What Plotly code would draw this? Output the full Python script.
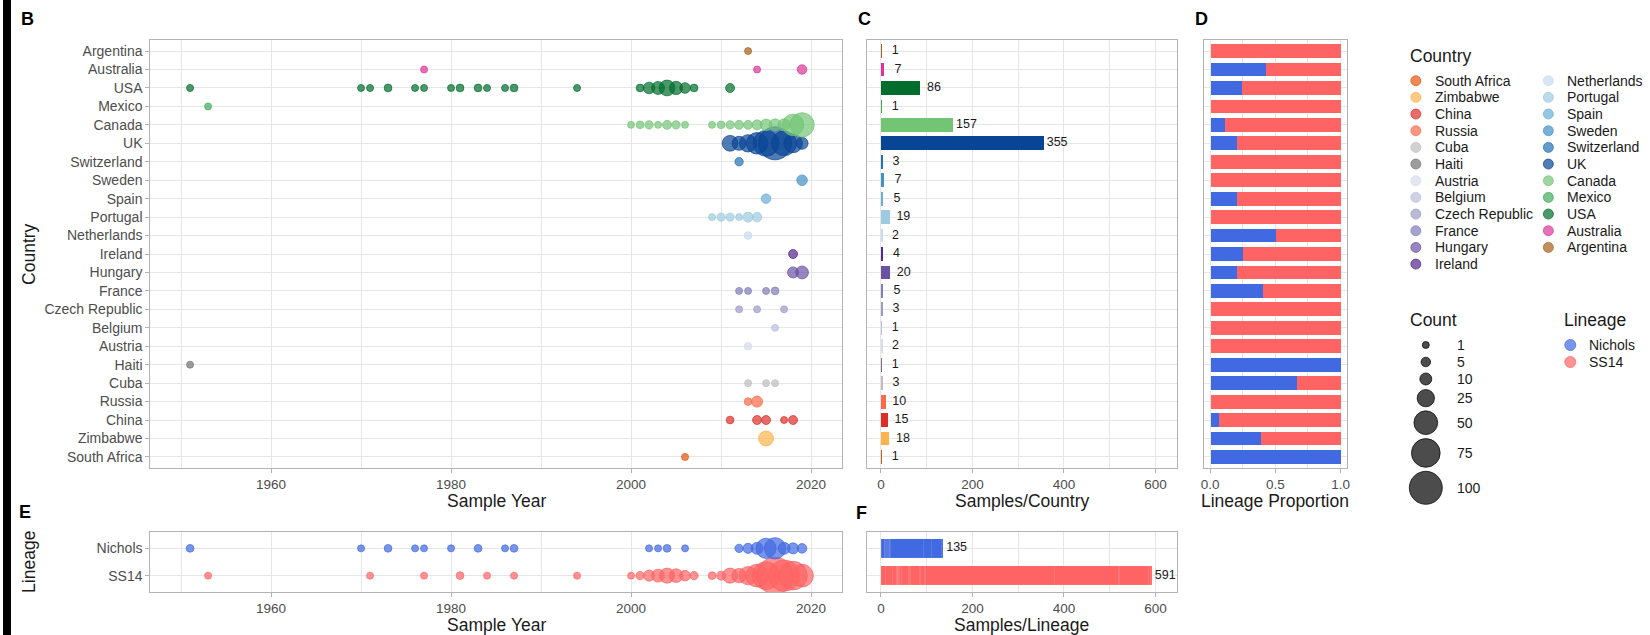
import math
import plotly.graph_objects as go

W, H = 1650, 635
FONT = "Liberation Sans, Arial, Helvetica, sans-serif"
TICK_GREY = "#4d4d4d"
BORDER = "#b3b3b3"
GRID = "#e6e6e6"

# ---- data -------------------------------------------------------------
countries = ["South Africa", "Zimbabwe", "China", "Russia", "Cuba", "Haiti",
             "Austria", "Belgium", "Czech Republic", "France", "Hungary",
             "Ireland", "Netherlands", "Portugal", "Spain", "Sweden",
             "Switzerland", "UK", "Canada", "Mexico", "USA", "Australia",
             "Argentina"]
country_colors = ["#e6550d", "#feb24c", "#de2d26", "#fb6a4a", "#bdbdbd",
                  "#737373", "#dadaeb", "#bcbddc", "#9e9ac8", "#807dba",
                  "#6a51a3", "#54278f", "#c6dbef", "#9ecae1", "#6baed6",
                  "#4292c6", "#2171b5", "#084594", "#74c476", "#41ab5d",
                  "#006d2c", "#dd3497", "#a6611a"]
country_totals = [1, 18, 15, 10, 3, 1, 2, 1, 3, 5, 20, 4, 2, 19, 5, 7, 3,
                  355, 157, 1, 86, 7, 1]
nichols_counts = [1, 7, 1, 0, 2, 1, 0, 0, 0, 2, 4, 1, 1, 0, 1, 0, 0,
                  72, 18, 0, 21, 3, 0]

# samples per country and year (long format)
sample_country = (["South Africa"] + ["Zimbabwe"] + ["China"] * 5 + ["Russia"] * 2
                  + ["Cuba"] * 3 + ["Haiti"] + ["Austria"] + ["Belgium"]
                  + ["Czech Republic"] * 3 + ["France"] * 4 + ["Hungary"] * 2
                  + ["Ireland"] + ["Netherlands"] + ["Portugal"] * 6 + ["Spain"]
                  + ["Sweden"] + ["Switzerland"] + ["UK"] * 9 + ["Canada"] * 18
                  + ["Mexico"] + ["USA"] * 21 + ["Australia"] * 3 + ["Argentina"])
sample_year = [
    2006,
    2015,
    2011, 2014, 2015, 2017, 2018,
    2013, 2014,
    2013, 2015, 2016,
    1951,
    2013,
    2016,
    2012, 2014, 2017,
    2012, 2013, 2015, 2016,
    2018, 2019,
    2018,
    2013,
    2009, 2010, 2011, 2012, 2013, 2014,
    2015,
    2019,
    2012,
    2011, 2012, 2013, 2014, 2015, 2016, 2017, 2018, 2019,
    2000, 2001, 2002, 2003, 2004, 2005, 2006, 2009, 2010, 2011, 2012, 2013,
    2014, 2015, 2016, 2017, 2018, 2019,
    1953,
    1951, 1970, 1971, 1973, 1976, 1977, 1980, 1981, 1983, 1984, 1986, 1987,
    1994, 2001, 2002, 2003, 2004, 2005, 2006, 2007, 2011,
    1977, 2014, 2019,
    2013,
]
sample_count = [
    1,
    18,
    2, 4, 4, 1, 4,
    2, 8,
    1, 1, 1,
    1,
    2,
    1,
    1, 1, 1,
    1, 1, 1, 2,
    8, 12,
    4,
    2,
    1, 3, 3, 1, 6, 5,
    5,
    7,
    3,
    20, 15, 25, 40, 60, 100, 55, 30, 10,
    1, 2, 3, 1, 4, 3, 1, 1, 2, 3, 4, 4, 6, 9, 10, 10, 40, 53,
    1,
    1, 1, 1, 2, 1, 1, 1, 2, 2, 1, 1, 2, 1, 2, 9, 12, 20, 13, 7, 2, 4,
    1, 1, 5,
    1,
]

lineages = ["SS14", "Nichols"]
lineage_colors = {"Nichols": "#4169e1", "SS14": "#ff6464"}
nichols_years = [1951, 1970, 1973, 1976, 1977, 1980, 1983, 1986, 1987, 2002,
                 2003, 2004, 2006, 2012, 2013, 2014, 2015, 2016, 2017, 2018, 2019]
nichols_year_counts = [2, 1, 2, 1, 1, 1, 2, 1, 2, 1, 1, 2, 1, 3, 6, 10, 35, 40,
                       10, 8, 5]
ss14_years = [1953, 1971, 1977, 1981, 1984, 1987, 1994, 2000, 2001, 2002, 2003,
              2004, 2005, 2006, 2007, 2009, 2010, 2011, 2012, 2013, 2014, 2015,
              2016, 2017, 2018, 2019]
ss14_year_counts = [1, 1, 1, 2, 1, 1, 1, 1, 3, 8, 12, 18, 14, 7, 3, 2, 4, 18,
                    16, 28, 45, 70, 125, 90, 74, 45]

count_breaks = [1, 5, 10, 25, 50, 75, 100]


# ---- helpers ----------------------------------------------------------
def rgba(hex_color, a):
    h = hex_color.lstrip("#")
    r, g, b = int(h[0:2], 16), int(h[2:4], 16), int(h[4:6], 16)
    return f"rgba({r},{g},{b},{a})"


def bubble(n):
    """Marker diameter in px; area grows linearly with the count."""
    return math.sqrt(38.5 + 10.5 * n)


def fx(px):
    return px / W


def fy(py):
    return 1 - py / H


# panel boxes in pixels: left, top, right, bottom
BOX_B = (148, 40, 842, 468)
BOX_C = (867, 40, 1178, 468)
BOX_D = (1205, 40, 1349, 468)
BOX_E = (148, 532, 842, 592)
BOX_F = (867, 532, 1178, 592)


def dom(box):
    l, t, r, b = box
    return [fx(l), fx(r)], [fy(b), fy(t)]


ALPHA = 0.7
fig = go.Figure()


def point_marker(sizes, color):
    # fill and rim share the same translucent colour, as in ggplot points
    return dict(size=sizes, color=rgba(color, ALPHA), opacity=1,
                line=dict(color=rgba(color, ALPHA), width=1))


# ---- B: samples per country over time ---------------------------------
for name, color in zip(countries, country_colors):
    yrs = [y for c, y in zip(sample_country, sample_year) if c == name]
    cnt = [n for c, n in zip(sample_country, sample_count) if c == name]
    fig.add_trace(go.Scatter(
        x=yrs, y=[name] * len(yrs), mode="markers", xaxis="x", yaxis="y",
        marker=point_marker([bubble(n) for n in cnt], color),
        showlegend=False, hoverinfo="skip"))

# ---- C: samples per country ---------------------------------------------
fig.add_trace(go.Bar(
    x=country_totals, y=countries, orientation="h", xaxis="x2", yaxis="y2",
    width=0.75, marker=dict(color=country_colors, line=dict(width=0)),
    showlegend=False, hoverinfo="skip"))
fig.add_trace(go.Scatter(
    x=[t + 30 for t in country_totals], y=countries, mode="text",
    text=[str(t) for t in country_totals], textposition="middle center",
    textfont=dict(family=FONT, size=12.5, color="#1a1a1a"),
    xaxis="x2", yaxis="y2", showlegend=False, hoverinfo="skip"))

# ---- D: lineage proportion per country ---------------------------------
prop_nichols = [n / t for n, t in zip(nichols_counts, country_totals)]
prop_ss14 = [1 - p for p in prop_nichols]
for vals, lin in ((prop_nichols, "Nichols"), (prop_ss14, "SS14")):
    fig.add_trace(go.Bar(
        x=vals, y=countries, orientation="h", xaxis="x3", yaxis="y3",
        width=0.75, marker=dict(color=lineage_colors[lin], line=dict(width=0)),
        showlegend=False, hoverinfo="skip"))

# ---- E: lineage samples over time ---------------------------------------
for lin, yrs, cnt in (("SS14", ss14_years, ss14_year_counts),
                      ("Nichols", nichols_years, nichols_year_counts)):
    fig.add_trace(go.Scatter(
        x=yrs, y=[lin] * len(yrs), mode="markers", xaxis="x4", yaxis="y4",
        marker=point_marker([bubble(n) for n in cnt], lineage_colors[lin]),
        showlegend=False, hoverinfo="skip"))

# ---- F: samples per lineage, stacked by country ---------------------------
ss14_counts = [t - n for t, n in zip(country_totals, nichols_counts)]
for n, s in zip(nichols_counts, ss14_counts):
    xs, ys, cs = [], [], []
    if n > 0:
        xs.append(n); ys.append("Nichols"); cs.append(lineage_colors["Nichols"])
    if s > 0:
        xs.append(s); ys.append("SS14"); cs.append(lineage_colors["SS14"])
    fig.add_trace(go.Bar(
        x=xs, y=ys, orientation="h", xaxis="x5", yaxis="y5", width=0.7,
        marker=dict(color=cs, line=dict(color="rgba(255,255,255,0.12)", width=0.5)),
        showlegend=False, hoverinfo="skip"))
lineage_totals = [sum(ss14_counts), sum(nichols_counts)]
fig.add_trace(go.Scatter(
    x=lineage_totals, y=lineages, mode="text",
    text=[f" {v}" for v in lineage_totals], textposition="middle right",
    textfont=dict(family=FONT, size=12.5, color="#1a1a1a"),
    xaxis="x5", yaxis="y5", showlegend=False, hoverinfo="skip", cliponaxis=False))

# ---- legends (drawn on a pixel-space overlay) ------------------------------
annotations = []


def text(x, y, s, size=14, anchor="left", bold=False, angle=0, color="#1a1a1a"):
    annotations.append(dict(
        x=fx(x), y=fy(y), xref="paper", yref="paper", text=f"<b>{s}</b>" if bold else s,
        showarrow=False, xanchor=anchor, yanchor="middle", textangle=angle,
        font=dict(family=FONT, size=size, color=color)))


KEY_D = 10
text(1410, 56, "Country", size=17.5)
key_x, key_y, key_c = [], [], []
for i, (name, color) in enumerate(zip(countries, country_colors)):
    col, row = divmod(i, 12)
    kx = 1418 + col * 133
    ky = 80.7 + row * 16.67
    key_x.append(kx); key_y.append(ky); key_c.append(color)
    text(kx + 17, ky, name)
fig.add_trace(go.Scatter(
    x=key_x, y=key_y, mode="markers", xaxis="x6", yaxis="y6",
    marker=dict(size=KEY_D, opacity=1, color=[rgba(c, ALPHA) for c in key_c],
                line=dict(color=[rgba(c, ALPHA) for c in key_c], width=1)),
    showlegend=False, hoverinfo="skip"))

text(1410, 320, "Count", size=17.5)
heights = [max(17, bubble(b) + 4) for b in count_breaks]
cy, cys = 345.0, []
for i, b in enumerate(count_breaks):
    if i > 0:
        cy += (heights[i - 1] + heights[i]) / 2
    cys.append(cy)
    text(1457, cy, str(b))
fig.add_trace(go.Scatter(
    x=[1428] * len(count_breaks), y=cys, mode="markers", xaxis="x6", yaxis="y6",
    marker=dict(size=[bubble(b) for b in count_breaks], opacity=1,
                color="rgba(0,0,0,0.7)", line=dict(color="rgba(0,0,0,0.7)", width=1)),
    showlegend=False, hoverinfo="skip"))

text(1565, 320, "Lineage", size=17.5)
for i, lin in enumerate(["Nichols", "SS14"]):
    text(1590, 345 + i * 17, lin)
fig.add_trace(go.Scatter(
    x=[1573, 1573], y=[345, 362], mode="markers", xaxis="x6", yaxis="y6",
    marker=dict(size=11, opacity=1,
                color=[rgba(lineage_colors[l], ALPHA) for l in ["Nichols", "SS14"]],
                line=dict(color=[rgba(lineage_colors[l], ALPHA) for l in ["Nichols", "SS14"]],
                          width=1)),
    showlegend=False, hoverinfo="skip"))

# ---- titles and panel letters ----------------------------------------------
text(495, 501, "Sample Year", size=17.5, anchor="center")
text(1022.5, 501, "Samples/Country", size=17.5, anchor="center")
text(1277, 501, "Lineage Proportion", size=17.5, anchor="center")
text(26, 254, "Country", size=17.5, anchor="center", angle=-90)
text(495, 625, "Sample Year", size=17.5, anchor="center")
text(1022.5, 625, "Samples/Lineage", size=17.5, anchor="center")
text(26, 562, "Lineage", size=17.5, anchor="center", angle=-90)
for letter, (lx, ly) in zip("BCDEF", [(25, 19), (865, 19), (1203, 19), (22, 512), (862, 513)]):
    text(lx, ly, letter, size=18, anchor="center", bold=True, color="#000000")


# ---- axes --------------------------------------------------------------------
def axis(domain, anchor, **kw):
    d = dict(domain=domain, anchor=anchor, showline=True, mirror=True,
             linecolor=BORDER, linewidth=1.3, ticks="outside", ticklen=4,
             tickcolor=BORDER, tickwidth=1,
             tickfont=dict(family=FONT, size=13.5, color=TICK_GREY),
             showgrid=True, gridcolor=GRID, gridwidth=1, zeroline=False,
             fixedrange=True)
    d.update(kw)
    return d


year_axis = dict(range=[1946.6, 2023.43], tick0=1960, dtick=20,
                 minor=dict(tick0=1950, dtick=10, showgrid=True, gridcolor=GRID))
count_axis = dict(range=[-30.8, 646.3], tick0=0, dtick=200,
                  minor=dict(tick0=0, dtick=100, showgrid=True, gridcolor=GRID))
country_axis = dict(type="category", categoryorder="array", categoryarray=countries,
                    range=[-0.6, len(countries) - 0.4])
lineage_axis = dict(type="category", categoryorder="array", categoryarray=lineages,
                    range=[-0.6, 1.6])

xb, yb = dom(BOX_B)
xc, yc = dom(BOX_C)
xd, yd = dom(BOX_D)
xe, ye = dom(BOX_E)
xf, yf = dom(BOX_F)

fig.update_layout(
    width=W, height=H, autosize=False,
    margin=dict(l=0, r=0, t=0, b=0, pad=0),
    paper_bgcolor="white", plot_bgcolor="rgba(0,0,0,0)",
    barmode="stack", bargap=0, showlegend=False,
    font=dict(family=FONT),
    xaxis=axis(xb, "y", **year_axis),
    yaxis=axis(yb, "x", **country_axis, tickfont=dict(family=FONT, size=14, color=TICK_GREY)),
    xaxis2=axis(xc, "y2", **count_axis),
    yaxis2=axis(yc, "x2", **country_axis, showticklabels=False, ticks=""),
    xaxis3=axis(xd, "y3", range=[-0.05, 1.05], tickvals=[0, 0.5, 1],
                ticktext=["0.0", "0.5", "1.0"],
                minor=dict(tickvals=[0.25, 0.75], showgrid=True, gridcolor=GRID)),
    yaxis3=axis(yd, "x3", **country_axis, showticklabels=False, ticks=""),
    xaxis4=axis(xe, "y4", **year_axis),
    yaxis4=axis(ye, "x4", **lineage_axis, tickfont=dict(family=FONT, size=14, color=TICK_GREY)),
    xaxis5=axis(xf, "y5", **count_axis),
    yaxis5=axis(yf, "x5", **lineage_axis, showticklabels=False, ticks=""),
    xaxis6=dict(domain=[0, 1], anchor="y6", range=[0, W], visible=False, fixedrange=True),
    yaxis6=dict(domain=[0, 1], anchor="x6", range=[H, 0], visible=False, fixedrange=True),
    annotations=annotations,
    shapes=[dict(type="rect", xref="paper", yref="paper", x0=0, x1=fx(8), y0=0, y1=1,
                 fillcolor="black", line=dict(width=0), layer="above")],
)

fig.write_html("out.html")
